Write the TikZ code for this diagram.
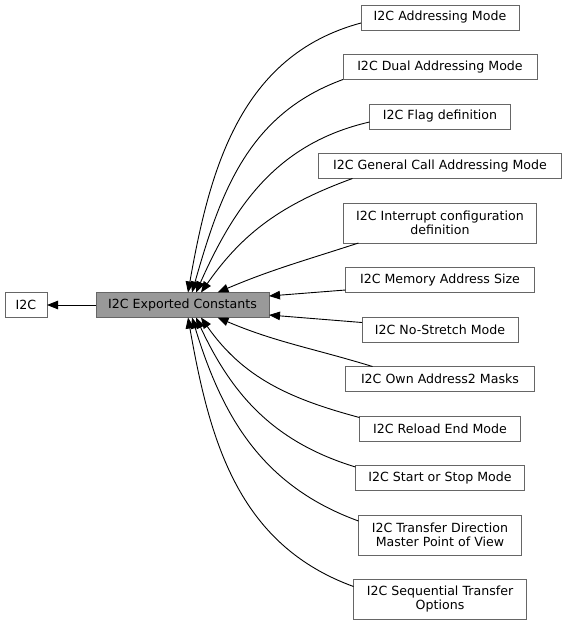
\documentclass[tikz,border=0pt]{standalone}
\usepackage{fontspec}
\newfontfamily\dvsans{DejaVu Sans}
\usepackage{tikz}
\usetikzlibrary{arrows.meta,positioning}
\definecolor{boxgray}{HTML}{666666}
\definecolor{curgray}{HTML}{999999}
\tikzset{
  grpbox/.style={draw=boxgray, fill=white, line width=0.9pt, outer sep=0pt, align=center, inner xsep=10pt, inner ysep=3pt, minimum height=25pt, font=\dvsans\fontsize{12.6}{14}\selectfont},
  tallbox/.style={grpbox, minimum height=40pt},
  curbox/.style={grpbox, fill=curgray},
  dep/.style={-{Triangle[length=11pt,width=8.5pt]}, line width=0.9pt}
}
\begin{document}
\begin{tikzpicture}[x=1pt, y=1pt, node distance=24.5pt]
\useasboundingbox (0,0) rectangle (567,-625);
\node[curbox, minimum width=173pt] (exp) at (182.5,-305) {I2C Exported Constants};
\node[grpbox, minimum width=42pt, left=49pt of exp] (i2c) {I2C};
\node[grpbox, minimum width=158pt] (addr) at (440,-17.5) {I2C Addressing Mode};
\node[grpbox, below=of addr, minimum width=194pt] (dual) {I2C Dual Addressing Mode};
\node[grpbox, below=of dual, minimum width=141pt] (flag) {I2C Flag definition};
\node[grpbox, below=of flag, minimum width=243pt] (gcall) {I2C General Call Addressing Mode};
\node[tallbox, below=of gcall, minimum width=193pt] (intr) {I2C Interrupt configuration\\definition};
\node[grpbox, below=of intr, minimum width=189pt] (memsz) {I2C Memory Address Size};
\node[grpbox, below=of memsz, minimum width=156pt] (nostr) {I2C No-Stretch Mode};
\node[grpbox, below=of nostr, minimum width=189pt] (own2) {I2C Own Address2 Masks};
\node[grpbox, below=of own2, minimum width=161pt] (reload) {I2C Reload End Mode};
\node[grpbox, below=of reload, minimum width=169pt] (ststop) {I2C Start or Stop Mode};
\node[tallbox, below=of ststop, minimum width=163pt] (xferdir) {I2C Transfer Direction\\ Master Point of View};
\node[tallbox, below=of xferdir, minimum width=173pt] (seqxfer) {I2C Sequential Transfer\\Options};
\draw[dep] (exp) -- (i2c);
\draw[dep] ([yshift=-5.5pt]addr.west) to[out=195, in=80] ([xshift=5.5pt]exp.north);
\draw[dep] (dual.south west) to[out=200, in=74] ([xshift=9.5pt]exp.north);
\draw[dep] ([yshift=-5.5pt]flag.west) to[out=193, in=66] ([xshift=13.5pt]exp.north);
\draw[dep] ([xshift=34pt]gcall.south west) to[out=200, in=55] ([xshift=18.5pt]exp.north);
\draw[dep] ([xshift=15pt]intr.south west) to[out=198, in=23] ([xshift=35pt]exp.north);
\draw[dep] ([yshift=-10pt]memsz.west) -- ([yshift=9pt]exp.east);
\draw[dep] ([yshift=7pt]nostr.west) -- ([yshift=-10pt]exp.east);
\draw[dep] ([xshift=27pt]own2.north west) to[out=163, in=-23] ([xshift=35pt]exp.south);
\draw[dep] ([yshift=11pt]reload.west) to[out=165, in=-55] ([xshift=18.5pt]exp.south);
\draw[dep] ([yshift=11pt]ststop.west) to[out=163, in=-65] ([xshift=13.5pt]exp.south);
\draw[dep] ([yshift=14pt]xferdir.west) to[out=160, in=-73] ([xshift=9.5pt]exp.south);
\draw[dep] ([yshift=13pt]seqxfer.west) to[out=160, in=-80] ([xshift=5.5pt]exp.south);
\end{tikzpicture}
\end{document}
